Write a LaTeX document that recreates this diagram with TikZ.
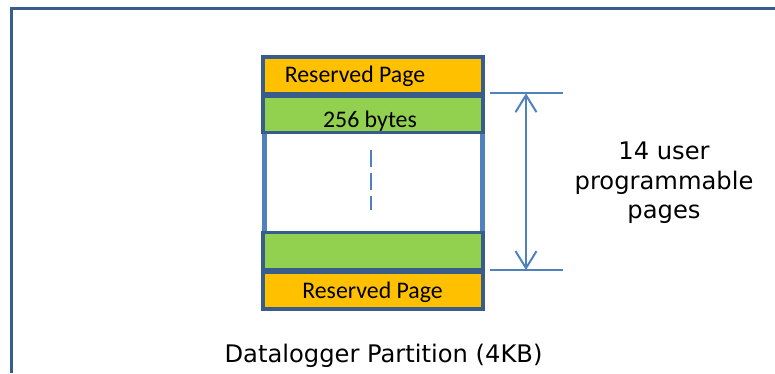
\documentclass[tikz,border=0pt]{standalone}
\usepackage{fontspec}
\setmainfont{DejaVu Sans}
\newfontfamily\calfont{Carlito}
\usetikzlibrary{arrows.meta}
\definecolor{darkb}{HTML}{385D8A}
\definecolor{lightb}{HTML}{4F81BD}
\definecolor{resorange}{HTML}{FFC000}
\definecolor{pagegreen}{HTML}{92D050}
\tikzset{
  pagebox/.style={draw=darkb, line width=3.6pt},
  reserved/.style={pagebox, fill=resorange},
  userpage/.style={pagebox, fill=pagegreen},
  caltext/.style={font=\calfont\fontsize{23.8}{28}\selectfont, anchor=base, inner sep=0pt},
  vtext/.style={font=\fontsize{24.2}{29.5}\selectfont, inner sep=0pt},
  dimline/.style={draw=lightb, line width=2pt},
  frameline/.style={draw=darkb, line width=2.6pt},
  sideline/.style={draw=lightb, line width=4.5pt},
}
\begin{document}
\begin{tikzpicture}[x=1pt,y=-1pt]
\useasboundingbox (0,0) rectangle (775,373);
% outer frame (top and left edges)
\coordinate (fl) at (11.3,373);
\coordinate (fc) at (11.3,8.2);
\coordinate (fr) at (775,8.2);
\draw[frameline] (fl) -- (fc) -- (fr);
% column side lines
\coordinate (sl1) at (264.5,132);
\coordinate (sl2) at (264.5,233);
\coordinate (sr1) at (482.5,132);
\coordinate (sr2) at (482.5,233);
\draw[sideline] (sl1) -- (sl2);
\draw[sideline] (sr1) -- (sr2);
% blocks
\path[reserved] (263,57) rectangle (483,94);
\path[userpage] (263,96) rectangle (483,132.5);
\path[userpage] (263,232.5) rectangle (483,270);
\path[reserved] (263,272) rectangle (483,309);
\node[caltext] (t1) at (355,82) {Reserved Page};
\node[caltext] (t2) at (370,127) {256 bytes};
\node[caltext] (t3) at (372.5,298) {Reserved Page};
% dashed divider
\coordinate (d1) at (370.7,150);
\coordinate (d2) at (370.7,210);
\draw[draw=lightb, line width=2pt, dash pattern=on 17pt off 6pt] (d1) -- (d2);
% dimension arrow
\coordinate (ha) at (490,93.3);
\coordinate (hb) at (563,93.3);
\coordinate (la) at (490,270);
\coordinate (lb) at (563,270);
\coordinate (at) at (526,93.3);
\coordinate (ab) at (526,270);
\draw[dimline] (ha) -- (hb);
\draw[dimline] (la) -- (lb);
\draw[dimline, {Straight Barb[length=17pt,width=21pt,line width=2pt]}-{Straight Barb[length=17pt,width=21pt,line width=2pt]}] (at) -- (ab);
\node[vtext, align=center] (lbl) at (664,183) {14 user\\programmable\\pages};
\node[vtext, anchor=base] (cap) at (383.5,362) {Datalogger Partition (4KB)};
\end{tikzpicture}
\end{document}
